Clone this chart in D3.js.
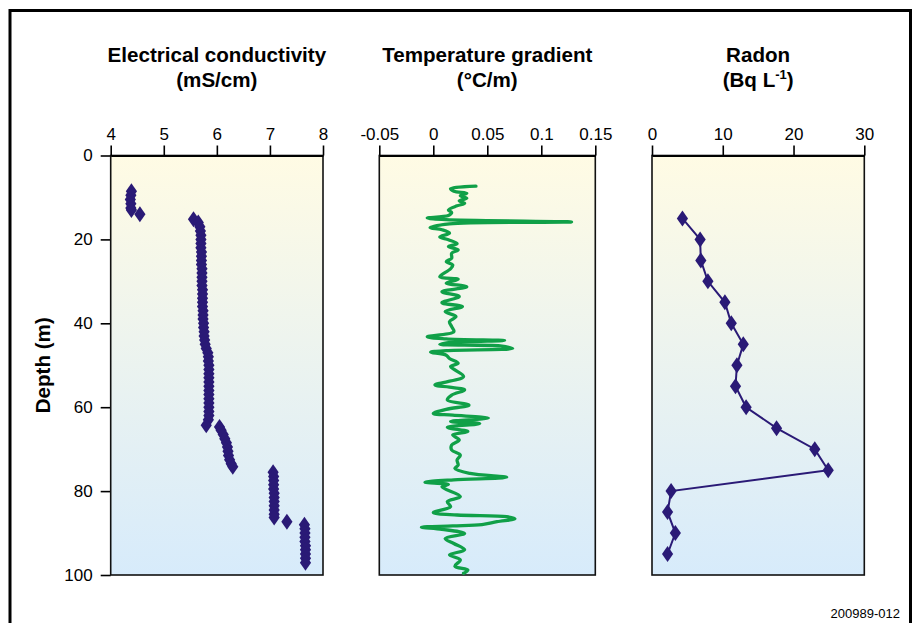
<!DOCTYPE html>
<html>
<head>
<meta charset="utf-8">
<script src="https://cdn.jsdelivr.net/npm/d3@7"></script>
<style>
  body { margin: 0; background: #fff; }
  svg { display: block; }
  text { font-family: "Liberation Sans", Arial, Helvetica, sans-serif; fill: #000; }
</style>
</head>
<body>
<svg class="chart" width="913" height="623"></svg>
<script>
// ---- data ----
const depthTicks = [0, 20, 40, 60, 80, 100];
const ecTicks = [4, 5, 6, 7, 8];
const tgTicks = [-0.05, 0, 0.05, 0.1, 0.15];
const rnTicks = [0, 10, 20, 30];

// electrical conductivity (mS/cm) vs depth (m)
const ecDepth = [8.5, 9.5, 10.5, 11.5, 12.5, 13, 14,
  15.2, 16, 17, 18, 19, 20, 21, 22, 23, 24, 25, 26, 27, 28, 29, 30, 31, 32, 33, 34, 35, 36, 37, 38, 39,
  40, 41, 42, 43, 44, 45, 46, 47, 48, 49, 50, 51, 52, 53, 54, 55, 56, 57, 58, 59, 60, 61, 62, 63, 64.3,
  64.7, 65.5, 66.5, 67.5, 68.5, 69.5, 70.5, 71.5, 72.5, 73.5, 74.2,
  75.5, 76.5, 77.5, 78.5, 79.5, 80.5, 81.5, 82.5, 83.5, 84.5, 85.5, 86.3, 87.3,
  88, 89, 90, 91, 92, 93, 94, 95, 96, 97.1];
const ecValue = [4.39, 4.38, 4.37, 4.38, 4.38, 4.39, 4.55,
  5.56, 5.65, 5.68, 5.69, 5.70, 5.70, 5.70, 5.70, 5.71, 5.71, 5.71, 5.71, 5.72, 5.72, 5.72, 5.72, 5.72, 5.73, 5.73, 5.73, 5.73, 5.73, 5.74, 5.74, 5.74,
  5.75, 5.75, 5.76, 5.76, 5.77, 5.78, 5.80, 5.83, 5.84, 5.84, 5.85, 5.85, 5.85, 5.85, 5.85, 5.85, 5.85, 5.85, 5.85, 5.85, 5.85, 5.85, 5.85, 5.84, 5.80,
  6.05, 6.08, 6.12, 6.15, 6.18, 6.20, 6.21, 6.22, 6.24, 6.27, 6.30,
  7.06, 7.07, 7.07, 7.07, 7.07, 7.08, 7.08, 7.08, 7.08, 7.08, 7.08, 7.08, 7.32,
  7.65, 7.66, 7.66, 7.66, 7.66, 7.67, 7.67, 7.67, 7.67, 7.67];

// temperature gradient (°C/m) vs depth (m)
const tgDepth = [7.3, 7.9, 8.5, 9.0, 9.6, 10.2, 10.8, 11.4, 12.0, 13.0, 13.6, 14.3, 14.9, 15.3, 15.85, 16.3,
  17.2, 17.7, 18.5, 19.4, 20.1, 21.0, 21.7, 22.5, 23.3, 24.5, 25.3, 26.1, 27.0, 28.9, 29.5, 30.4, 31.3,
  32.5, 33.6, 35.1, 36.0, 37.2, 38.4, 39.6, 40.8, 42.0, 43.2, 43.7, 44.1, 44.5, 45.0, 45.4, 46.0, 46.5,
  46.9, 47.6, 48.4, 49.5, 50.3, 51.1, 52.7, 54.7, 55.2, 55.9, 57.1, 58.3, 59.5, 60.5, 61.5, 61.9, 62.6,
  63.4, 63.9, 64.8, 65.8, 66.6, 67.8, 69.0, 70.2, 71.4, 72.6, 73.8, 74.6, 75.8, 76.7, 77.3, 77.9, 78.4,
  79.0, 81.3, 82.5, 83.7, 85.1, 85.7, 86.1, 86.6, 87.3, 88.0, 88.3, 88.6, 89.1, 90.1, 91.3, 92.5, 94.0,
  95.2, 96.4, 97.9, 98.8, 99.6];
const tgValue = [0.0395, 0.016, 0.019, 0.031, 0.025, 0.031, 0.024, 0.029, 0.022, 0.014, 0.017, 0.014, -0.0056, 0.012, 0.128, 0.015,
  -0.003, 0.008, 0.015, 0.006, 0.014, 0.022, 0.014, 0.023, 0.017, 0.017, 0.012, 0.018, 0.016, 0.006, 0.023, 0.012, 0.031,
  0.008, 0.024, 0.008, 0.027, 0.011, 0.021, 0.015, 0.017, 0.019, -0.0056, 0.012, 0.066, 0.018, 0.006, 0.062, 0.0735, 0.012,
  -0.0025, 0.012, 0.015, 0.023, 0.016, 0.020, 0.028, 0.0015, 0.015, 0.029, 0.017, 0.013, 0.033, 0.012, 0.0, 0.018, 0.051,
  0.016, 0.043, 0.013, 0.032, 0.018, 0.024, 0.017, 0.017, 0.025, 0.022, 0.023, 0.020, 0.034, 0.068, 0.019, -0.0077, 0.014,
  0.008, 0.025, 0.013, 0.016, 0.0, 0.022, 0.068, 0.0756, 0.059, 0.045, 0.018, -0.011, 0.008, 0.029, 0.011, 0.019, 0.029,
  0.015, 0.025, 0.020, 0.032, 0.028];

// radon (Bq/L) vs depth (m)
const rnDepth = [15, 20, 25, 30, 35, 40, 45, 50, 55, 60, 65, 70, 75, 80, 85, 90, 95];
const rnValue = [4.3, 6.8, 6.9, 7.9, 10.3, 11.2, 12.9, 12.0, 11.8, 13.3, 17.6, 23.0, 24.9, 2.7, 2.2, 3.3, 2.2];

// ---- layout ----
const plotTop = 155.5, plotBottom = 575;
const navy = "#2a1a76", green = "#10a048";
const diamond = "M0,-8L5.6,0L0,8L-5.6,0Z";

const svg = d3.select(".chart");

const defs = svg.append("defs");
const grad = defs.append("linearGradient")
  .attr("id", "bg").attr("gradientUnits", "userSpaceOnUse")
  .attr("x1", 0).attr("x2", 0).attr("y1", plotTop).attr("y2", plotBottom);
grad.append("stop").attr("offset", 0).attr("stop-color", "#fffbe4");
grad.append("stop").attr("offset", 1).attr("stop-color", "#d7ebfb");

// outer frame
svg.append("path")
  .attr("d", "M10,640V10.5H910.5V640")
  .attr("fill", "none").attr("stroke", "#000").attr("stroke-width", 3);

const y = d3.scaleLinear().domain([0, 100]).range([plotTop, plotBottom]);

function panel(range, domain, ticks, title, unit) {
  const x = d3.scaleLinear().domain(domain).range(range);
  const g = svg.append("g");
  g.append("rect")
    .attr("x", range[0]).attr("y", plotTop)
    .attr("width", range[1] - range[0]).attr("height", plotBottom - plotTop)
    .attr("fill", "url(#bg)").attr("stroke", "#111").attr("stroke-width", 1.6);

  const ax = g.append("g")
    .attr("transform", `translate(0,${plotTop})`)
    .call(d3.axisTop(x).tickValues(ticks).tickSize(10).tickSizeOuter(0).tickPadding(6).tickFormat(d => String(d)));
  ax.select(".domain").attr("stroke-width", 1.8);
  ax.selectAll(".tick line").attr("stroke-width", 1.6);
  ax.selectAll("text").attr("font-size", 17).attr("font-family", null);

  const cx = (range[0] + range[1]) / 2;
  g.append("text").attr("x", cx).attr("y", 61.5)
    .attr("text-anchor", "middle").attr("font-weight", "bold").attr("font-size", 20.6)
    .text(title);
  const t2 = g.append("text").attr("x", cx).attr("y", 87)
    .attr("text-anchor", "middle").attr("font-weight", "bold").attr("font-size", 20.6);
  unit(t2);
  return { g, x };
}

// depth axis
const yAx = svg.append("g")
  .attr("transform", "translate(110.7,0)")
  .call(d3.axisLeft(y).tickValues(depthTicks).tickSize(10).tickSizeOuter(0).tickPadding(8));
yAx.select(".domain").remove();
yAx.selectAll(".tick line").attr("stroke-width", 1.6);
yAx.selectAll("text").attr("font-size", 17).attr("font-family", null);

svg.append("text")
  .attr("transform", `translate(50,${(plotTop + plotBottom) / 2}) rotate(-90)`)
  .attr("text-anchor", "middle").attr("font-weight", "bold").attr("font-size", 20.6)
  .text("Depth (m)");

// panel 1: electrical conductivity
const p1 = panel([110.7, 323], [4, 8], ecTicks, "Electrical conductivity", t => t.text("(mS/cm)"));
p1.g.selectAll(".ec").data(d3.zip(ecDepth, ecValue)).join("path")
  .attr("class", "ec")
  .attr("d", diamond)
  .attr("transform", d => `translate(${p1.x(d[1])},${y(d[0])})`)
  .attr("fill", navy);

// panel 2: temperature gradient
const p2 = panel([379.3, 595.3], [-0.05, 0.15], tgTicks, "Temperature gradient", t => t.text("(°C/m)"));
const tgLine = d3.line()
  .x(d => p2.x(d[1]))
  .y(d => y(d[0]))
  .curve(d3.curveCatmullRom.alpha(0.5));
p2.g.append("path")
  .datum(d3.zip(tgDepth, tgValue))
  .attr("d", tgLine)
  .attr("fill", "none").attr("stroke", green).attr("stroke-width", 3.3)
  .attr("stroke-linejoin", "round").attr("stroke-linecap", "round");

// panel 3: radon
const p3 = panel([652, 864.3], [0, 30], rnTicks, "Radon", t => {
  t.append("tspan").text("(Bq L");
  t.append("tspan").attr("font-size", 13).attr("dy", -8).text("-1");
  t.append("tspan").attr("dy", 8).text(")");
});
const rnData = d3.zip(rnDepth, rnValue);
p3.g.append("path")
  .datum(rnData)
  .attr("d", d3.line().x(d => p3.x(d[1])).y(d => y(d[0])))
  .attr("fill", "none").attr("stroke", navy).attr("stroke-width", 2);
p3.g.selectAll(".rn").data(rnData).join("path")
  .attr("class", "rn")
  .attr("d", diamond)
  .attr("transform", d => `translate(${p3.x(d[1])},${y(d[0])})`)
  .attr("fill", navy);

// figure id
svg.append("text").attr("x", 900).attr("y", 618)
  .attr("text-anchor", "end").attr("font-size", 13)
  .text("200989-012");
</script>
</body>
</html>
